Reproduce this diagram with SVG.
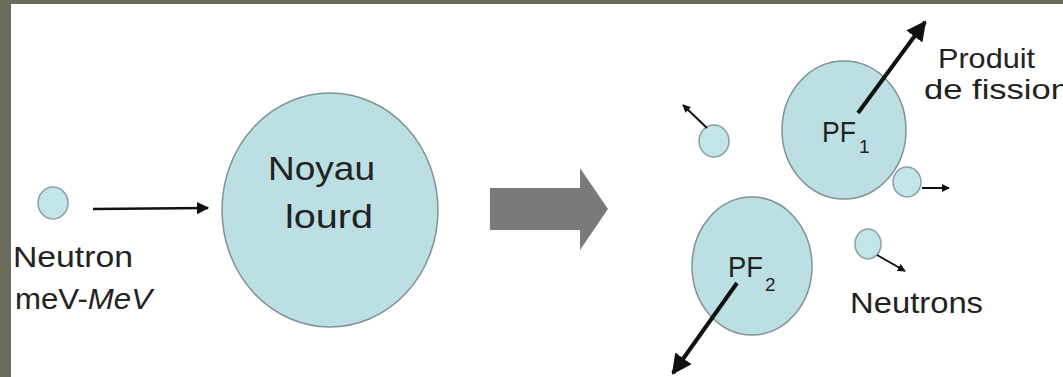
<svg xmlns="http://www.w3.org/2000/svg" width="1063" height="377" viewBox="0 0 1063 377">
<style>
.bg{fill:#6b6b5c}
.nuc{fill:#bcdfe4;stroke:#7f9397;stroke-width:1.5}
.neu{fill:#c2e5ea;stroke:#8a9ea2;stroke-width:1.5}
.t{font-family:"Liberation Sans",Arial,sans-serif;fill:#222}
.ln{stroke:#111;fill:none}
</style>
<defs>
<marker id="ah" viewBox="0 0 10 10" refX="9" refY="5" markerWidth="5" markerHeight="5" orient="auto" markerUnits="strokeWidth">
<path d="M0,0 L10,5 L0,10 z" fill="#111"/>
</marker>
<marker id="ahs" viewBox="0 0 10 10" refX="9" refY="5" markerWidth="4" markerHeight="4" orient="auto" markerUnits="strokeWidth">
<path d="M0,0 L10,5 L0,10 z" fill="#111"/>
</marker>
</defs>
<rect class="bg" x="0" y="0" width="1063" height="377"/>
<rect x="11" y="4" width="1052" height="373" fill="#ffffff"/>

<g id="neutron-in">
<ellipse class="neu" cx="53" cy="203" rx="15" ry="16"/>
<text class="t" x="13" y="267" font-size="30" textLength="120" lengthAdjust="spacingAndGlyphs">Neutron</text>
<text class="t" x="15" y="309" font-size="30" textLength="137" lengthAdjust="spacingAndGlyphs">meV-<tspan font-style="italic">MeV</tspan></text>
</g>

<g id="noyau-lourd">
<ellipse class="nuc" cx="330" cy="210" rx="108" ry="117"/>
<text class="t" x="268" y="180" font-size="33" textLength="107" lengthAdjust="spacingAndGlyphs">Noyau</text>
<text class="t" x="285" y="228" font-size="33" textLength="88" lengthAdjust="spacingAndGlyphs">lourd</text>
</g>

<g id="transition-arrow">
<path d="M490,188 L580,188 L580,168 L608,209 L580,250 L580,230 L490,230 z" fill="#7a7a7a"/>
</g>

<g id="pf1">
<ellipse class="nuc" cx="844" cy="130" rx="62" ry="69"/>
<text class="t" x="822" y="142" font-size="30" textLength="34" lengthAdjust="spacingAndGlyphs">PF</text>
<text class="t" x="859" y="153" font-size="19">1</text>
</g>

<g id="pf2">
<ellipse class="nuc" cx="752" cy="266" rx="60" ry="69"/>
<text class="t" x="728" y="277" font-size="30" textLength="35" lengthAdjust="spacingAndGlyphs">PF</text>
<text class="t" x="765" y="291" font-size="19">2</text>
</g>

<g id="neutron-a">
<ellipse class="neu" cx="714" cy="141" rx="15" ry="16"/>
</g>
<g id="neutron-b">
<ellipse class="neu" cx="907" cy="182" rx="14" ry="15"/>
</g>
<g id="neutron-c">
<ellipse class="neu" cx="868" cy="244" rx="13" ry="15"/>
</g>

<g id="label-produit">
<text class="t" x="938" y="68" font-size="28" textLength="97" lengthAdjust="spacingAndGlyphs">Produit</text>
<text class="t" x="924" y="99" font-size="28" textLength="146" lengthAdjust="spacingAndGlyphs">de fission</text>
</g>
<g id="label-neutrons">
<text class="t" x="850" y="313" font-size="30" textLength="133" lengthAdjust="spacingAndGlyphs">Neutrons</text>
</g>

<g id="connectors">
<line class="ln" x1="93" y1="209" x2="208" y2="208" stroke-width="2.5" marker-end="url(#ah)"/>
<line class="ln" x1="858" y1="113" x2="925" y2="22" stroke-width="4" marker-end="url(#ah)"/>
<line class="ln" x1="737" y1="283" x2="673" y2="373" stroke-width="4" marker-end="url(#ah)"/>
<line class="ln" x1="707" y1="128" x2="683" y2="105" stroke-width="2" marker-end="url(#ahs)"/>
<line class="ln" x1="922" y1="188" x2="949" y2="188" stroke-width="2" marker-end="url(#ahs)"/>
<line class="ln" x1="877" y1="255" x2="905" y2="271" stroke-width="2" marker-end="url(#ahs)"/>
</g>
</svg>
